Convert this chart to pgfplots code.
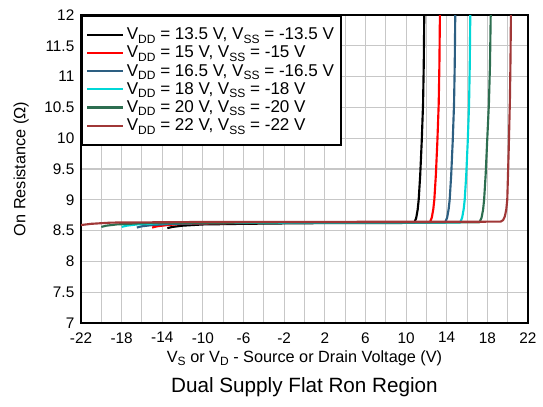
\documentclass[border=0pt]{standalone}
\usepackage{fontspec}
\setmainfont{Liberation Sans}
\usepackage{pgfplots}
\pgfplotsset{compat=1.18}
\definecolor{cA}{RGB}{0,0,0}
\definecolor{cB}{RGB}{255,0,0}
\definecolor{cC}{RGB}{45,95,130}
\definecolor{cD}{RGB}{0,215,215}
\definecolor{cE}{RGB}{45,110,80}
\definecolor{cF}{RGB}{160,55,55}
\newcommand{\sbs}[1]{\raisebox{-0.2em}{\fontsize{9}{9}\selectfont #1}}
\begin{document}
\begin{tikzpicture}
\path[use as bounding box] (0,0) rectangle (407.25pt,305.25pt);
\begin{axis}[
  name=ax,
  at={(60.75pt,63pt)}, anchor=south west,
  scale only axis, width=335.25pt, height=231pt,
  xmin=-22, xmax=22, ymin=7, ymax=12,
  xtick={-22,-18,...,22}, minor xtick={-20,-16,...,20},
  ytick={7,7.5,...,12},
  yticklabels={7,7.5,8,8.5,9,9.5,10,10.5,11,11.5,12},
  grid=both,
  major grid style={draw=black!22, line width=0.8pt},
  minor grid style={draw=black!22, line width=0.8pt},
  major tick length=0pt, minor tick length=0pt,
  axis line style={line width=1.5pt},
  /pgf/number format/assume math mode=true,
  ticklabel style={font=\fontsize{11.5}{13}\selectfont},
  xticklabel style={yshift=-3.5pt},
  yticklabel style={xshift=-1.5pt},
  xlabel={V\sbs{S} or V\sbs{D} - Source or Drain Voltage (V)},
  ylabel={On Resistance (Ω)},
  label style={font=\fontsize{12.2}{14}\selectfont},
  xlabel style={at={(axis description cs:0.5,-0.114)}, anchor=center},
  ylabel style={at={(axis description cs:-0.134,0.5)}, anchor=center, rotate=0},
  legend style={at={(0,1)}, anchor=north west, draw=black, line width=1.5pt,
    fill=white, font=\fontsize{12.8}{14}\selectfont, row sep=-0.8pt,
    inner xsep=3pt, inner ysep=7pt, cells={anchor=west}},
  legend image code/.code={\path (0pt,0pt) -- (27pt,0pt);\draw[#1, line width=1.6pt] (0pt,0pt) -- (24pt,0pt);},
  every axis plot/.append style={line width=1.6pt, line join=round},
  clip=true,
]
% VDD=13.5
\addplot[color=cA] coordinates {
(-13.5,8.54) (-13.0,8.56) (-12.0,8.58) (-10.0,8.60) (-6,8.61) (0,8.62) (10.79,8.625)
(10.99,8.70) (11.14,8.84) (11.24,9.0) (11.39,9.4) (11.54,9.95) (11.67,10.55) (11.74,11.2) (11.79,12.0) (11.81,12.3)};
\addlegendentry{V\sbs{DD} = 13.5 V, V\sbs{SS} = -13.5 V}
% VDD=15
\addplot[color=cB] coordinates {
(-15,8.55) (-14.5,8.57) (-13.5,8.59) (-12,8.61) (-8,8.62) (0,8.63) (12.33,8.63)
(12.53,8.71) (12.68,8.85) (12.78,9.0) (12.93,9.4) (13.08,9.95) (13.21,10.55) (13.28,11.2) (13.33,12.0) (13.35,12.3)};
\addlegendentry{V\sbs{DD} = 15 V, V\sbs{SS} = -15 V}
% VDD=16.5
\addplot[color=cC] coordinates {
(-16.5,8.55) (-16,8.57) (-15,8.59) (-13,8.61) (-10,8.62) (0,8.63) (13.84,8.63)
(14.04,8.71) (14.19,8.85) (14.29,9.0) (14.44,9.4) (14.59,9.95) (14.72,10.55) (14.79,11.2) (14.84,12.0) (14.86,12.3)};
\addlegendentry{V\sbs{DD} = 16.5 V, V\sbs{SS} = -16.5 V}
% VDD=18
\addplot[color=cD] coordinates {
(-18,8.56) (-17.5,8.58) (-16.5,8.60) (-14,8.62) (0,8.63) (15.32,8.63)
(15.52,8.71) (15.67,8.85) (15.77,9.0) (15.92,9.4) (16.07,9.95) (16.20,10.55) (16.27,11.2) (16.32,12.0) (16.34,12.3)};
\addlegendentry{V\sbs{DD} = 18 V, V\sbs{SS} = -18 V}
% VDD=20
\addplot[color=cE] coordinates {
(-20,8.56) (-19.5,8.58) (-18.5,8.60) (-16,8.62) (0,8.635) (17.23,8.635)
(17.43,8.71) (17.58,8.84) (17.68,9.0) (17.83,9.4) (17.98,9.95) (18.15,10.55) (18.26,11.2) (18.33,12.0) (18.35,12.3)};
\addlegendentry{V\sbs{DD} = 20 V, V\sbs{SS} = -20 V}
% VDD=22
\addplot[color=cF] coordinates {
(-22,8.59) (-21,8.61) (-19,8.63) (-10,8.64) (19.3,8.645)
(19.55,8.67) (19.72,8.73) (19.86,8.84) (19.96,9.0) (20.1,9.8) (20.22,10.62) (20.28,11.3) (20.32,12.0) (20.34,12.3)};
\addlegendentry{V\sbs{DD} = 22 V, V\sbs{SS} = -22 V}
\end{axis}
\node[font=\fontsize{15.5}{18}\selectfont, yshift=-48pt] at (ax.south) {Dual Supply Flat Ron Region};
\end{tikzpicture}
\end{document}
